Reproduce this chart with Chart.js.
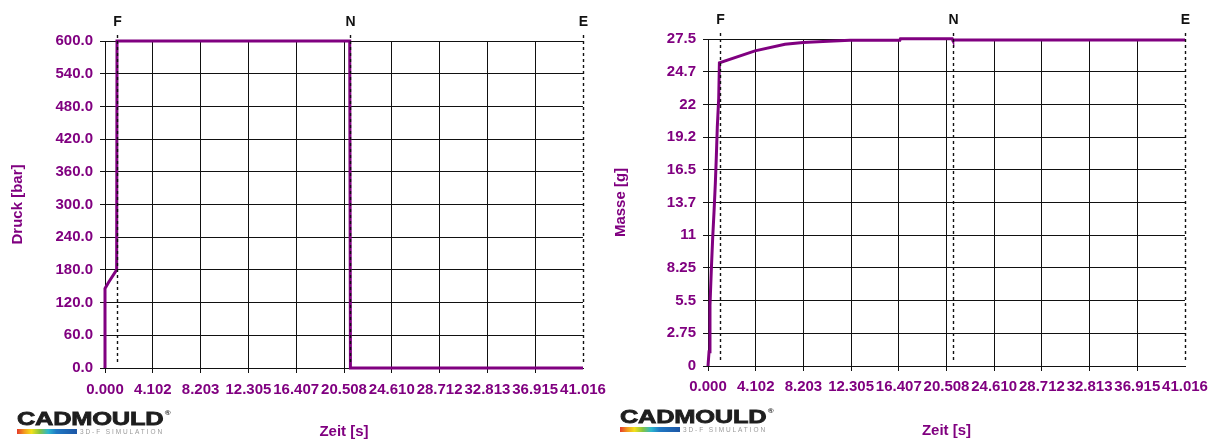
<!DOCTYPE html>
<html>
<head>
<meta charset="utf-8">
<script src="https://cdn.jsdelivr.net/npm/chart.js@4.4.0/dist/chart.umd.min.js"></script>
<style>
  body { margin: 0; background: #fff; width: 1215px; height: 441px; overflow: hidden; position: relative; }
  canvas { position: absolute; top: 0; }
  .logo { position: absolute; font-family: 'Liberation Sans', Arial, sans-serif; }
  .brand { font-size: 19px; line-height: 1; font-weight: bold; color: #1e1e1e; transform: scaleX(1.34); transform-origin: left top; white-space: nowrap; letter-spacing: -0.2px; -webkit-text-stroke: 0.8px #1e1e1e; }
  .brand sup { font-size: 6px; vertical-align: top; position: relative; top: 1px; margin-left: 1px; -webkit-text-stroke: 0; }
  .sub { position: absolute; left: 0; top: 19px; white-space: nowrap; height: 6px; }
  .bar { position: absolute; left: 0; top: 1px; width: 60px; height: 5px;
    background: linear-gradient(to right, #e53a2b 0%, #f39a1e 12%, #f3e11b 24%, #86c540 38%, #2cb7cf 52%, #1f78c4 66%, #1d56a5 100%); }
  .sim { position: absolute; left: 63px; top: 0; font-size: 6.5px; line-height: 7px; letter-spacing: 1.9px; color: #9a9a9a; }
</style>
</head>
<body>
<canvas id="druck" width="615" height="441" style="left:0px"></canvas>
<canvas id="masse" width="612" height="441" style="left:603px"></canvas>

<div class="logo" style="left:17px;top:409px">
  <div class="brand">CADMOULD<sup>®</sup></div>
  <div class="sub"><span class="bar"></span><span class="sim">3D-F SIMULATION</span></div>
</div>
<div class="logo" style="left:620px;top:407px">
  <div class="brand">CADMOULD<sup>®</sup></div>
  <div class="sub"><span class="bar"></span><span class="sim">3D-F SIMULATION</span></div>
</div>

<script>
// Zeitachse (beide Diagramme)
const zeitLabels = ['0.000', '4.102', '8.203', '12.305', '16.407', '20.508', '24.610', '28.712', '32.813', '36.915', '41.016']
const zeitMax = 41.016

// Markierungen F / N / E
const markerNamen = ['F', 'N', 'E']
const markerZeiten = [1.03, 21.03, 41.016]

// Druck [bar]
const druckLabels = ['0.0', '60.0', '120.0', '180.0', '240.0', '300.0', '360.0', '420.0', '480.0', '540.0', '600.0']
const druckZeit = [0, 0, 0.3, 1.0, 1.03, 21.0, 21.06, 41.016]
const druckWert = [0, 146, 157, 180, 600, 600, 0, 0]

// Masse [g]
const masseLabels = ['0', '2.75', '5.5', '8.25', '11', '13.7', '16.5', '19.2', '22', '24.7', '27.5']
const masseTicks = [0, 2.75, 5.5, 8.25, 11, 13.75, 16.5, 19.25, 22, 24.75, 27.5]
const masseZeit = [0, 0.09, 0.17, 0.29, 0.4, 0.52, 0.63, 0.72, 0.8, 0.92, 0.98, 4.04, 6.62, 8.17, 9.89, 12.21, 16.5, 16.55, 21.0, 21.05, 41.016]
const masseWert = [0, 1.2, 5.1, 8.2, 10.7, 13.0, 15.35, 17.7, 20.1, 22.5, 25.5, 26.5, 27.05, 27.2, 27.28, 27.39, 27.4, 27.52, 27.52, 27.41, 27.41]

const LILA = '#800080'
const FONT = "'Liberation Sans', Arial, sans-serif"

const markerPlugin = {
  id: 'marker',
  afterDatasetsDraw(chart) {
    const { ctx, chartArea, scales } = chart
    ctx.save()
    markerZeiten.forEach((t, i) => {
      const px = Math.round(scales.x.getPixelForValue(t)) + 0.5
      ctx.setLineDash([3, 3])
      ctx.strokeStyle = '#111'
      ctx.lineWidth = 1.4
      ctx.beginPath()
      ctx.moveTo(px, chartArea.top - 6)
      ctx.lineTo(px, chartArea.bottom - 3)
      ctx.stroke()
      ctx.setLineDash([])
      ctx.fillStyle = '#111'
      ctx.font = 'bold 14px ' + FONT
      ctx.textAlign = 'center'
      ctx.textBaseline = 'alphabetic'
      ctx.fillText(markerNamen[i], px, chartArea.top - 15)
    })
    ctx.restore()
  }
}

function zeichne(id, cfg) {
  const punkte = cfg.zeit.map((t, i) => ({ x: t, y: cfg.wert[i] }))
  const xTicks = zeitLabels.map(Number)
  new Chart(document.getElementById(id), {
    type: 'line',
    data: {
      datasets: [{
        data: punkte,
        borderColor: LILA,
        borderWidth: 3,
        pointRadius: 0,
        tension: 0,
        clip: false,
      }]
    },
    options: {
      responsive: false,
      animation: false,
      devicePixelRatio: 1,
      layout: { padding: { top: cfg.top, right: cfg.right, bottom: 0, left: 0 } },
      plugins: { legend: { display: false }, tooltip: { enabled: false } },
      scales: {
        x: {
          type: 'linear',
          min: 0,
          max: zeitMax,
          afterBuildTicks: s => { s.ticks = xTicks.map(v => ({ value: v })) },
          afterFit: s => { s.height = cfg.xHeight; s.paddingLeft = 0; s.paddingRight = 0 },
          ticks: {
            callback: (v, i) => zeitLabels[i],
            color: LILA,
            font: { family: FONT, size: 15, weight: 'bold' },
            padding: cfg.xPad,
            maxRotation: 0,
            autoSkip: false,
          },
          grid: {
            color: c => (c.tick && c.tick.value === zeitMax) ? 'rgba(0,0,0,0)' : '#111',
            lineWidth: 1,
            tickLength: 5,
          },
          border: { color: '#111', width: 1 },
          title: {
            display: true,
            text: 'Zeit [s]',
            color: LILA,
            font: { family: FONT, size: 15, weight: 'bold' },
            padding: { top: 0, bottom: cfg.titleBottom },
          },
        },
        y: {
          min: 0,
          max: cfg.yMax,
          afterBuildTicks: s => { s.ticks = cfg.yTicks.map(v => ({ value: v })) },
          afterFit: s => { s.width = 105; s.paddingTop = 0; s.paddingBottom = 0 },
          ticks: {
            callback: (v, i) => cfg.yLabels[i],
            color: LILA,
            font: { family: FONT, size: 15, weight: 'bold' },
            padding: 7,
            autoSkip: false,
          },
          grid: { color: '#111', lineWidth: 1, tickLength: 5 },
          border: { color: '#111', width: 1 },
          title: {
            display: true,
            text: cfg.yTitel,
            color: LILA,
            font: { family: FONT, size: 15, weight: 'bold' },
            padding: { top: 9, bottom: 0 },
          },
        }
      }
    },
    plugins: [markerPlugin]
  })
}

zeichne('druck', {
  zeit: druckZeit, wert: druckWert,
  yMax: 600, yTicks: druckLabels.map(Number), yLabels: druckLabels, yTitel: 'Druck [bar]',
  top: 41, right: 32, xHeight: 73, titleBottom: 0, xPad: 8,
})

zeichne('masse', {
  zeit: masseZeit, wert: masseWert,
  yMax: 27.5, yTicks: masseTicks, yLabels: masseLabels, yTitel: 'Masse [g]',
  top: 39, right: 30, xHeight: 75, titleBottom: 1, xPad: 7,
})
</script>
</body>
</html>
